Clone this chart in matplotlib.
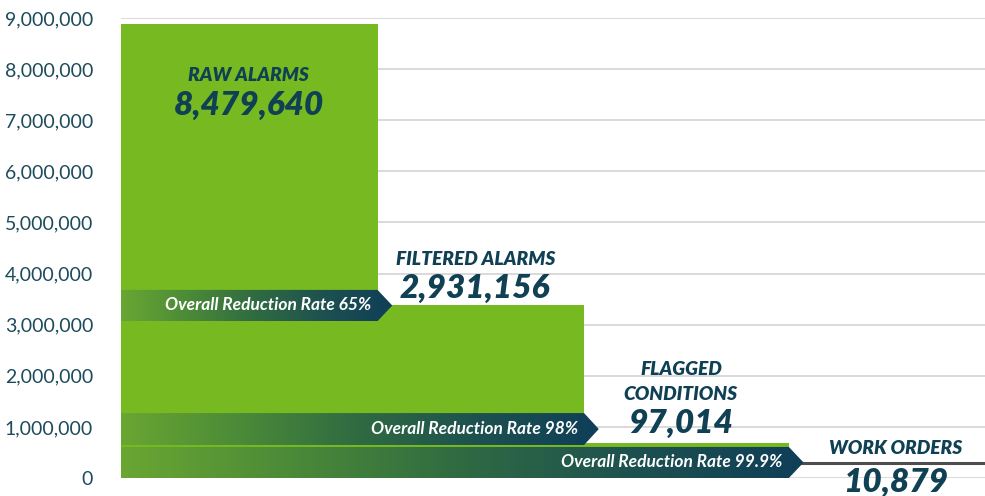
import matplotlib

matplotlib.use("Agg")
import matplotlib.pyplot as plt
import numpy as np
from matplotlib.colors import LinearSegmentedColormap
from matplotlib.patches import Polygon
from matplotlib.ticker import FuncFormatter

plt.rcParams["font.family"] = ["Lato", "DejaVu Sans"]

# data
stages = ["RAW ALARMS", "FILTERED ALARMS", "FLAGGED\nCONDITIONS", "WORK ORDERS"]
stage_counts = ["8,479,640", "2,931,156", "97,014", "10,879"]
bar_heights = [8.88e6, 3.39e6, 0.68e6, 0.29e6]  # drawn heights (stylised, not to scale)
reduction_rates = ["65%", "98%", "99.9%"]

# layout: bar edges in axis units (0..1)
edges = [0.0, 0.297, 0.536, 0.773, 1.0]
arrow_bands = [(3.07e6, 3.68e6), (0.646e6, 1.27e6), (0.0, 0.607e6)]
TIP = 0.017

GREEN = "#76b920"
DARK = "#0f4054"
TICK = "#1d4b5c"

fig = plt.figure(figsize=(9.85, 4.96), dpi=100)
ax = fig.add_axes([0.1228, 0.0363, 0.8772, 0.9274])

for y in np.arange(0, 9.5e6, 1e6):
    ax.axhline(y, color="#d9d9d9", lw=1.4, zorder=0)

# three green bars, last stage drawn as a thin dark line
for i in range(3):
    ax.bar(edges[i], bar_heights[i], width=edges[i + 1] - edges[i], align="edge",
           color=GREEN, zorder=2)
ax.plot([edges[3], edges[4]], [bar_heights[3]] * 2, color="#4d4d4d", lw=2.2,
        zorder=2, solid_capstyle="butt")

# gradient chevron arrows
cmap = LinearSegmentedColormap.from_list(
    "arr", ["#6aa632", "#4b8a38", "#2f6a42", "#1d5150", "#0f3e58"])
grad = np.linspace(0, 1, 256).reshape(1, -1)
for i, rate in enumerate(reduction_rates):
    x0, xb = edges[0], edges[i + 1]
    xt = xb + TIP
    y0, y1 = arrow_bands[i]
    poly = Polygon([(x0, y0), (xb, y0), (xt, (y0 + y1) / 2), (xb, y1), (x0, y1)],
                   closed=True, facecolor="none", edgecolor="none")
    ax.add_patch(poly)
    im = ax.imshow(grad, cmap=cmap, extent=[x0, xt, y0, y1], aspect="auto",
                   zorder=3, interpolation="bilinear")
    im.set_clip_path(poly)
    ax.text(xb - 0.007, (y0 + y1) / 2, f"Overall Reduction Rate {rate}",
            color="white", fontsize=12.5, fontweight="bold", style="italic",
            ha="right", va="center", zorder=4)

# stage labels
label_pos = [(0.148, 7.87e6, 7.28e6), (0.410, 4.27e6, 3.7e6),
             (0.648, 1.88e6, 1.06e6), (0.896, 0.57e6, -0.08e6)]
for i, (name, count) in enumerate(zip(stages, stage_counts)):
    cx, yn, yc = label_pos[i]
    ax.text(cx, yn, name, color=DARK, fontsize=13.8, fontweight="heavy",
            style="italic", ha="center", va="center", linespacing=1.55, zorder=5)
    ax.text(cx, yc, count, color=DARK, fontsize=24, fontweight="heavy",
            style="italic", ha="center", va="center", zorder=5, clip_on=False)

ax.set_xlim(0, 1)
ax.set_ylim(0, 9e6)
ax.set_yticks(np.arange(0, 9.5e6, 1e6))
ax.yaxis.set_major_formatter(FuncFormatter(lambda v, p: f"{int(v):,}"))
ax.tick_params(axis="y", length=0, pad=20, labelsize=14, labelcolor=TICK)
ax.set_xticks([])
for s in ax.spines.values():
    s.set_visible(False)

fig.savefig("out.png", dpi=100)
